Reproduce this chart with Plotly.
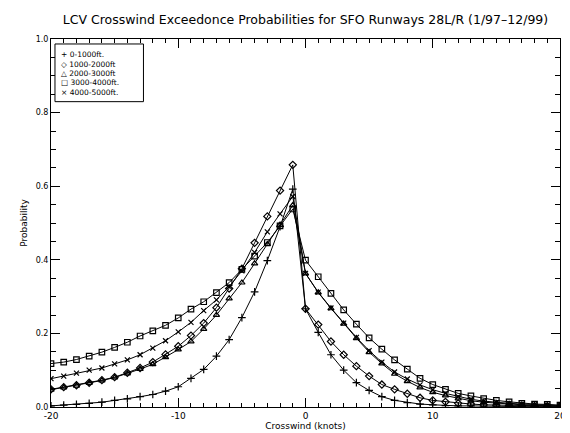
import plotly.graph_objects as go

knots = [-20, -19, -18, -17, -16, -15, -14, -13, -12, -11, -10, -9, -8, -7, -6, -5, -4, -3, -2, -1,
         0, 1, 2, 3, 4, 5, 6, 7, 8, 9, 10, 11, 12, 13, 14, 15, 16, 17, 18, 19, 20]

series_names = ["0-1000ft.", "1000-2000ft", "2000-3000ft", "3000-4000ft.", "4000-5000ft."]

p_0_1000 = [0.003, 0.005, 0.007, 0.010, 0.013, 0.018, 0.022, 0.028, 0.034, 0.043, 0.055, 0.078, 0.102,
            0.138, 0.183, 0.243, 0.313, 0.398, 0.490, 0.592,
            0.267, 0.203, 0.142, 0.100, 0.066, 0.045, 0.028, 0.018, 0.012, 0.008, 0.006, 0.004, 0.003,
            0.003, 0.002, 0.002, 0.001, 0.001, 0.001, 0.001, 0.001]
p_1000_2000 = [0.048, 0.054, 0.059, 0.066, 0.073, 0.081, 0.093, 0.106, 0.122, 0.143, 0.165, 0.194, 0.228,
               0.270, 0.322, 0.376, 0.446, 0.518, 0.588, 0.658,
               0.267, 0.224, 0.178, 0.142, 0.111, 0.084, 0.061, 0.048, 0.036, 0.025, 0.018, 0.014, 0.010,
               0.008, 0.006, 0.005, 0.004, 0.003, 0.002, 0.002, 0.002]
p_2000_3000 = [0.047, 0.053, 0.058, 0.065, 0.072, 0.080, 0.091, 0.103, 0.116, 0.135, 0.156, 0.178, 0.212,
               0.250, 0.295, 0.338, 0.390, 0.442, 0.495, 0.548,
               0.363, 0.311, 0.268, 0.226, 0.187, 0.149, 0.118, 0.090, 0.070, 0.053, 0.040, 0.031, 0.023,
               0.017, 0.013, 0.010, 0.008, 0.006, 0.004, 0.003, 0.003]
p_3000_4000 = [0.118, 0.122, 0.129, 0.138, 0.149, 0.162, 0.176, 0.193, 0.207, 0.222, 0.242, 0.266, 0.286,
               0.311, 0.338, 0.374, 0.410, 0.447, 0.492, 0.538,
               0.399, 0.354, 0.309, 0.264, 0.225, 0.188, 0.157, 0.128, 0.103, 0.078, 0.061, 0.048, 0.037,
               0.030, 0.023, 0.018, 0.014, 0.010, 0.008, 0.007, 0.005]
p_4000_5000 = [0.077, 0.084, 0.092, 0.100, 0.106, 0.117, 0.128, 0.142, 0.160, 0.180, 0.204, 0.230, 0.262,
               0.291, 0.327, 0.370, 0.420, 0.476, 0.525, 0.572,
               0.363, 0.312, 0.269, 0.228, 0.189, 0.153, 0.122, 0.095, 0.076, 0.060, 0.047, 0.037, 0.028,
               0.021, 0.016, 0.012, 0.010, 0.008, 0.006, 0.005, 0.004]

x_tick_vals = [-20, -10, 0, 10, 20]
x_tick_text = ["-20", "-10", "0", "10", "20"]
y_tick_vals = [0.0, 0.2, 0.4, 0.6, 0.8, 1.0]
y_tick_text = ["0.0", "0.2", "0.4", "0.6", "0.8", "1.0"]

all_series = [p_0_1000, p_1000_2000, p_2000_3000, p_3000_4000, p_4000_5000]
symbols = ["cross-thin", "diamond-open", "triangle-up-open", "square-open", "x-thin"]
sizes = [5.5, 5.5, 5.5, 5.5, 5]
legend_glyphs = ["+", "\u25c7", "\u25b3", "\u25a1", "\u00d7"]

FONT = "DejaVu Sans"

fig = go.Figure()
for vals, sym, sz in zip(all_series, symbols, sizes):
    fig.add_trace(go.Scatter(
        x=knots, y=vals, mode="lines+markers",
        line=dict(color="black", width=1),
        marker=dict(symbol=sym, size=sz, color="black",
                    line=dict(color="black", width=1.2)),
        showlegend=False, cliponaxis=True,
    ))

fig.update_layout(
    width=570, height=433,
    margin=dict(l=43, r=15, t=31, b=32),
    paper_bgcolor="white", plot_bgcolor="white",
    title=dict(text="LCV Crosswind Exceedonce Probabilities for SFO Runways 28L/R (1/97\u201312/99)",
               x=0.5, xref="paper", xanchor="center", y=0.972, yref="container", yanchor="middle",
               font=dict(family=FONT, size=12.5, color="black")),
    font=dict(family=FONT, color="black"),
)

fig.update_xaxes(
    range=[-20, 20], showgrid=False, zeroline=False,
    showline=True, linecolor="black", linewidth=1, mirror="ticks",
    ticks="inside", ticklen=9, tickwidth=1, tickcolor="black",
    tickvals=x_tick_vals, ticktext=x_tick_text,
    tickfont=dict(family=FONT, size=9, color="black"),
    minor=dict(ticks="inside", ticklen=4, dtick=1, tick0=0, tickcolor="black", tickwidth=1, showgrid=False),
    title=dict(text="Crosswind (knots)", font=dict(family=FONT, size=9, color="black"), standoff=2),
)
fig.update_yaxes(
    range=[0, 1], showgrid=False, zeroline=False,
    showline=True, linecolor="black", linewidth=1, mirror="ticks",
    ticks="inside", ticklen=9, tickwidth=1, tickcolor="black",
    tickvals=y_tick_vals, ticktext=y_tick_text,
    tickfont=dict(family=FONT, size=8, color="black"),
    minor=dict(ticks="inside", ticklen=5, dtick=0.05, tick0=0, tickcolor="black", tickwidth=1, showgrid=False),
    title=dict(text="Probability", font=dict(family=FONT, size=9, color="black"), standoff=6),
)

# legend box
fig.add_shape(type="rect", xref="paper", yref="paper",
              x0=(47 - 43) / 512, x1=(136 - 43) / 512,
              y0=(401 - 94) / 370, y1=(401 - 36) / 370,
              line=dict(color="black", width=1), fillcolor="white", layer="above")
entry_y = [46.5, 56.2, 65.6, 75.0, 84.4]
for glyph, name, yy in zip(legend_glyphs, series_names, entry_y):
    fig.add_annotation(xref="paper", yref="paper",
                       x=(51 - 43) / 512, y=(401 - yy) / 370,
                       xanchor="left", yanchor="middle", showarrow=False,
                       text=glyph + " " + name,
                       font=dict(family=FONT, size=7.5, color="black"))

fig.write_html("out.html")
